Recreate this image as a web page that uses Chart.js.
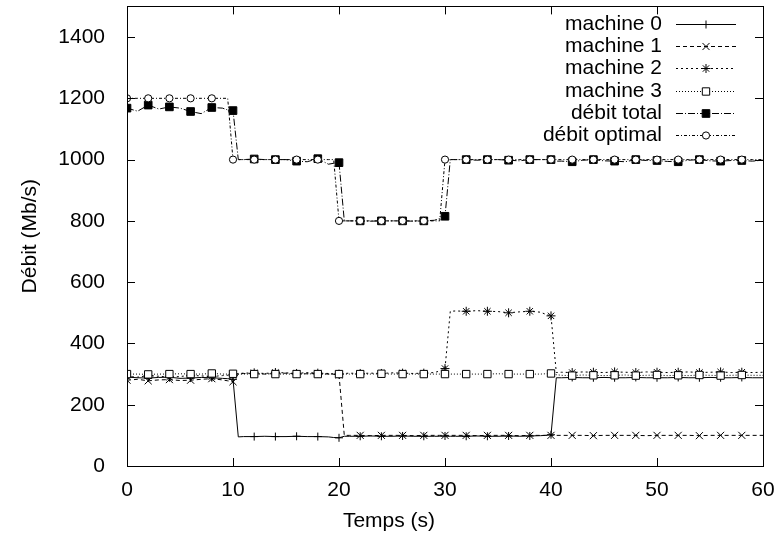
<!DOCTYPE html>
<html lang="fr">
<head>
<meta charset="UTF-8">
<title>Débit</title>
<script src="https://cdn.jsdelivr.net/npm/chart.js"></script>
<style>
  html, body { margin: 0; padding: 0; background: #fff; }
</style>
</head>
<body>
<canvas id="myChart" width="779" height="536"></canvas>
<script>
// temps (s) : pas de 1 s, plus les demi-secondes autour des changements
const times = [0, 1, 2, 3, 4, 5, 6, 7, 8, 9, 9.5, 10, 10.5,
  11, 12, 13, 14, 15, 16, 17, 18, 19, 19.5, 20, 20.5,
  21, 22, 23, 24, 25, 26, 27, 28, 29, 29.5, 30, 30.5,
  31, 32, 33, 34, 35, 36, 37, 38, 39, 39.5, 40, 40.5,
  41, 42, 43, 44, 45, 46, 47, 48, 49, 50, 51, 52, 53, 54, 55, 56, 57, 58, 59, 60];

const machine0 = [290, 288, 287, 289, 290, 286, 287, 289, 288, 286, 285, 283, 95,
  96, 96, 97, 96, 96, 97, 96, 96, 95, 93, 92, 97,
  97, 97, 98, 97, 97, 98, 97, 97, 97, 97, 98, 97,
  97, 97, 98, 97, 97, 98, 97, 98, 99, 100, 102, 288,
  288, 289, 288, 288, 289, 288, 288, 289, 288, 288, 288, 289, 288, 288, 289, 288, 288, 289, 288, 288];

const machine1 = [280, 283, 278, 281, 282, 279, 280, 283, 285, 281, 278, 275, 300,
  302, 301, 300, 302, 303, 300, 301, 302, 300, 299, 298, 100,
  100, 100, 99, 100, 100, 100, 99, 100, 100, 100, 100, 100,
  100, 100, 99, 100, 100, 100, 99, 100, 100, 100, 100, 100,
  100, 100, 100, 99, 100, 100, 100, 100, 99, 100, 100, 100, 100, 99, 100, 100, 100, 100, 100, 100];

const machine2 = [292, 290, 295, 293, 290, 292, 296, 294, 292, 295, 296, 298, 302,
  303, 304, 302, 305, 304, 302, 305, 303, 302, 301, 300, 302,
  303, 302, 303, 302, 304, 303, 302, 303, 305, 310, 318, 505,
  506, 505, 507, 505, 504, 500, 503, 505, 502, 495, 490, 305,
  306, 305, 307, 306, 305, 307, 306, 305, 307, 306, 305, 306, 307, 305, 306, 307, 305, 306, 305, 306];

const machine3 = [300, 300, 299, 300, 300, 301, 300, 300, 302, 300, 300, 301, 300,
  300, 300, 301, 300, 300, 300, 301, 300, 300, 300, 300, 300,
  300, 300, 300, 301, 300, 300, 300, 300, 300, 300, 300, 300,
  300, 300, 300, 300, 301, 300, 300, 300, 300, 301, 302, 298,
  296, 295, 297, 296, 295, 296, 297, 295, 296, 297, 295, 296, 295, 297, 296, 295, 296, 297, 296, 296];

const debitTotal = [1168, 1158, 1178, 1165, 1172, 1168, 1157, 1150, 1170, 1168, 1162, 1160, 1000,
  1000, 1002, 1000, 1000, 1000, 995, 993, 1003, 985, 988, 990, 800,
  800, 800, 799, 800, 800, 800, 799, 800, 802, 808, 815, 1000,
  1000, 1000, 998, 1000, 1000, 998, 996, 1000, 1000, 1000, 1000, 995,
  995, 993, 998, 1000, 996, 995, 993, 1000, 997, 997, 994, 993, 998, 1000, 996, 995, 997, 997, 995, 998];

const debitOptimal = [1200, 1200, 1200, 1200, 1200, 1200, 1200, 1200, 1200, 1200, 1200, 1000, 1000,
  1000, 1000, 1000, 1000, 1000, 1000, 1000, 1000, 1000, 1000, 800, 800,
  800, 800, 800, 800, 800, 800, 800, 800, 800, 800, 1000, 1000,
  1000, 1000, 1000, 1000, 1000, 1000, 1000, 1000, 1000, 1000, 1000, 1000,
  1000, 1000, 1000, 1000, 1000, 1000, 1000, 1000, 1000, 1000, 1000, 1000, 1000, 1000, 1000, 1000, 1000, 1000, 1000, 1000];

const seriesNames = ['machine 0', 'machine 1', 'machine 2', 'machine 3', 'débit total', 'débit optimal'];
const xTicks = [0, 10, 20, 30, 40, 50, 60];
const yTicks = [0, 200, 400, 600, 800, 1000, 1200, 1400];

const FONT = '"Liberation Sans", Arial, Helvetica, sans-serif';
Chart.defaults.color = '#000';
Chart.defaults.font.family = FONT;
Chart.defaults.font.size = 21;

// les marqueurs sont posés toutes les 2 s, comme dans gnuplot
function markEvery2(r) {
  return ctx => {
    const t = times[ctx.dataIndex];
    return (t % 2 === 0 && t < 60) ? r : 0;
  };
}

function mkSet(i, values, dash, style, r, fill) {
  return {
    label: seriesNames[i],
    data: values.map((v, k) => ({ x: times[k], y: v })),
    borderColor: '#000',
    borderWidth: 1,
    borderDash: dash,
    pointStyle: style,
    pointRadius: markEvery2(r),
    pointBorderColor: '#000',
    pointBackgroundColor: fill,
    pointBorderWidth: 1,
    keyRadius: r,
    order: 5 - i,
    tension: 0
  };
}

// bordure fermée + graduations vers l'intérieur + titre de l'axe x
const gnuplotFrame = {
  id: 'gnuplotFrame',
  afterDatasetsDraw(chart) {
    const { ctx, chartArea: a, scales } = chart;
    ctx.save();
    ctx.strokeStyle = '#000';
    ctx.lineWidth = 1;
    ctx.setLineDash([]);
    ctx.strokeRect(Math.round(a.left) + 0.5, Math.round(a.top) + 0.5,
      Math.round(a.right - a.left), Math.round(a.bottom - a.top));
    ctx.beginPath();
    yTicks.forEach(v => {
      const y = Math.round(scales.y.getPixelForValue(v)) + 0.5;
      ctx.moveTo(a.left, y); ctx.lineTo(a.left + 8, y);
      ctx.moveTo(a.right, y); ctx.lineTo(a.right - 8, y);
    });
    xTicks.forEach(v => {
      const x = Math.round(scales.x.getPixelForValue(v)) + 0.5;
      ctx.moveTo(x, a.bottom); ctx.lineTo(x, a.bottom - 8);
      ctx.moveTo(x, a.top); ctx.lineTo(x, a.top + 8);
    });
    ctx.stroke();
    ctx.font = '21px ' + FONT;
    ctx.fillStyle = '#000';
    ctx.textAlign = 'center';
    ctx.textBaseline = 'middle';
    ctx.fillText('Temps (s)', 389, 521);
    ctx.restore();
  }
};

// légende dans le cadre, en haut à droite
const keyLegend = {
  id: 'keyLegend',
  afterDraw(chart) {
    const ctx = chart.ctx;
    chart.data.datasets.forEach((ds, i) => {
      const y = Math.round(24 + i * 22.2) + 0.5;
      ctx.save();
      ctx.font = '21px ' + FONT;
      ctx.fillStyle = '#000';
      ctx.textAlign = 'right';
      ctx.textBaseline = 'middle';
      ctx.fillText(ds.label, 662, y);
      ctx.strokeStyle = '#000';
      ctx.lineWidth = 1;
      ctx.setLineDash(ds.borderDash);
      ctx.beginPath();
      ctx.moveTo(676, y);
      ctx.lineTo(736, y);
      ctx.stroke();
      ctx.setLineDash([]);
      ctx.fillStyle = ds.pointBackgroundColor;
      Chart.helpers.drawPoint(ctx, { pointStyle: ds.pointStyle, radius: ds.keyRadius, borderWidth: 1, rotation: 0 }, 706, y);
      ctx.restore();
    });
  }
};

const ctx = document.querySelector('#myChart').getContext('2d');
const myChart = new Chart(ctx, {
  type: 'line',
  data: {
    datasets: [
      mkSet(0, machine0, [], 'cross', 4, '#000'),
      mkSet(1, machine1, [4, 3], 'crossRot', 5, '#000'),
      mkSet(2, machine2, [2, 3], 'star', 4.5, '#000'),
      mkSet(3, machine3, [1, 2], 'rect', 5.2, '#fff'),
      mkSet(4, debitTotal, [7, 2, 1, 2], 'rect', 5.4, '#000'),
      mkSet(5, debitOptimal, [3, 2, 1, 2], 'circle', 3.6, '#fff')
    ]
  },
  options: {
    responsive: false,
    animation: false,
    events: [],
    layout: { padding: { top: 6, right: 16, left: 0, bottom: 0 } },
    plugins: {
      legend: { display: false },
      tooltip: { enabled: false }
    },
    scales: {
      x: {
        type: 'linear',
        min: 0,
        max: 60,
        afterBuildTicks: s => { s.ticks = xTicks.map(v => ({ value: v })); },
        afterFit: s => { s.height = 70; s.paddingLeft = 0; s.paddingRight = 0; },
        grid: { display: false },
        border: { display: false },
        ticks: { padding: 4, maxRotation: 0, autoSkip: false, callback: v => String(v) }
      },
      y: {
        type: 'linear',
        min: 0,
        max: 1500,
        afterBuildTicks: s => { s.ticks = yTicks.map(v => ({ value: v })); },
        afterFit: s => { s.width = 127; s.paddingTop = 0; s.paddingBottom = 0; },
        grid: { display: false },
        border: { display: false },
        ticks: { padding: 14, autoSkip: false, callback: v => String(v) },
        title: { display: true, text: 'Débit (Mb/s)', padding: { top: 18, bottom: 0 } }
      }
    }
  },
  plugins: [gnuplotFrame, keyLegend]
});
</script>
</body>
</html>
